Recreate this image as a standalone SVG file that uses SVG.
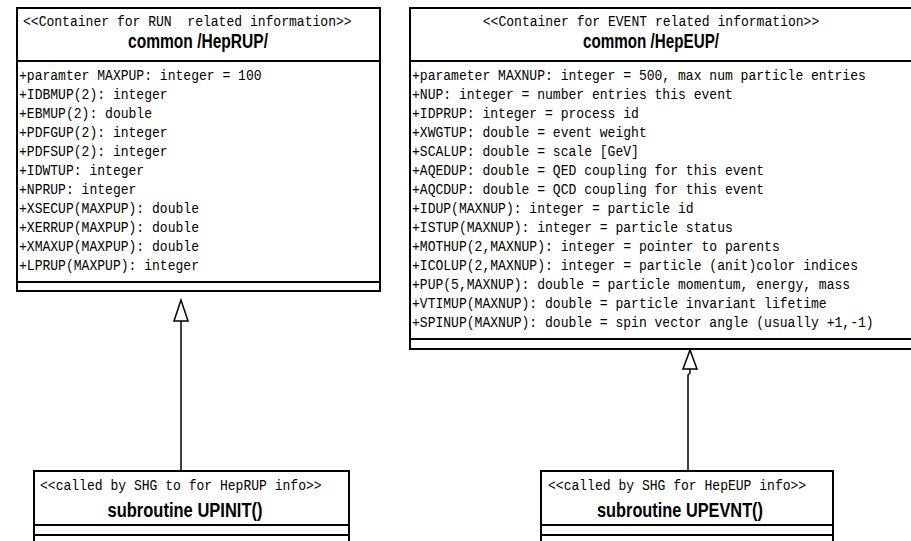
<svg xmlns="http://www.w3.org/2000/svg" width="911" height="541" viewBox="0 0 911 541">
  <style>
    .box { fill: #ffffff; stroke: #000000; stroke-width: 2; }
    .sep { stroke: #000000; stroke-width: 2; }
    .mono { font-family: "Liberation Mono", "Courier New", monospace; font-size: 14.5px; fill: #000000; }
    .title { font-family: "Liberation Sans", Arial, sans-serif; font-size: 20px; font-weight: bold; fill: #000000; text-anchor: middle; }
    .mid { text-anchor: middle; }
    .edge { fill: none; stroke: #000000; stroke-width: 1.5; }
    .head { fill: #ffffff; stroke: #000000; stroke-width: 1.5; stroke-linejoin: miter; }
  </style>

  <rect x="0" y="0" width="911" height="541" fill="#ffffff"/>

  <!-- common block holding run information -->
  <g id="hepRUP">
    <rect class="box" x="17" y="8" width="363" height="283"/>
    <line class="sep" x1="17" y1="61" x2="380" y2="61"/>
    <line class="sep" x1="17" y1="282" x2="380" y2="282"/>
    <g class="mono" transform="translate(23,0) scale(0.9,1)">
      <text x="0" y="26" xml:space="preserve">&lt;&lt;Container for RUN  related information&gt;&gt;</text>
    </g>
    <text class="title" x="198" y="48" textLength="140" lengthAdjust="spacingAndGlyphs">common /HepRUP/</text>
    <g class="mono" transform="translate(19,0) scale(0.9,1)">
      <text x="0" y="80">+paramter MAXPUP: integer = 100</text>
      <text x="0" y="99">+IDBMUP(2): integer</text>
      <text x="0" y="118">+EBMUP(2): double</text>
      <text x="0" y="137">+PDFGUP(2): integer</text>
      <text x="0" y="156">+PDFSUP(2): integer</text>
      <text x="0" y="175">+IDWTUP: integer</text>
      <text x="0" y="194">+NPRUP: integer</text>
      <text x="0" y="213">+XSECUP(MAXPUP): double</text>
      <text x="0" y="232">+XERRUP(MAXPUP): double</text>
      <text x="0" y="251">+XMAXUP(MAXPUP): double</text>
      <text x="0" y="270">+LPRUP(MAXPUP): integer</text>
    </g>
  </g>

  <!-- common block holding event information -->
  <g id="hepEUP">
    <rect class="box" x="410" y="8" width="512" height="341"/>
    <line class="sep" x1="410" y1="61" x2="922" y2="61"/>
    <line class="sep" x1="410" y1="339" x2="922" y2="339"/>
    <g class="mono mid" transform="translate(651,0) scale(0.9,1)">
      <text x="0" y="26">&lt;&lt;Container for EVENT related information&gt;&gt;</text>
    </g>
    <text class="title" x="651" y="48" textLength="136" lengthAdjust="spacingAndGlyphs">common /HepEUP/</text>
    <g class="mono" transform="translate(412,0) scale(0.9,1)">
      <text x="0" y="80">+parameter MAXNUP: integer = 500, max num particle entries</text>
      <text x="0" y="99">+NUP: integer = number entries this event</text>
      <text x="0" y="118">+IDPRUP: integer = process id</text>
      <text x="0" y="137">+XWGTUP: double = event weight</text>
      <text x="0" y="156">+SCALUP: double = scale [GeV]</text>
      <text x="0" y="175">+AQEDUP: double = QED coupling for this event</text>
      <text x="0" y="194">+AQCDUP: double = QCD coupling for this event</text>
      <text x="0" y="213">+IDUP(MAXNUP): integer = particle id</text>
      <text x="0" y="232">+ISTUP(MAXNUP): integer = particle status</text>
      <text x="0" y="251">+MOTHUP(2,MAXNUP): integer = pointer to parents</text>
      <text x="0" y="270">+ICOLUP(2,MAXNUP): integer = particle (anit)color indices</text>
      <text x="0" y="289">+PUP(5,MAXNUP): double = particle momentum, energy, mass</text>
      <text x="0" y="308">+VTIMUP(MAXNUP): double = particle invariant lifetime</text>
      <text x="0" y="327">+SPINUP(MAXNUP): double = spin vector angle (usually +1,-1)</text>
    </g>
  </g>

  <!-- subroutine filling the run block -->
  <g id="upinit">
    <rect class="box" x="34" y="471" width="315" height="90"/>
    <line class="sep" x1="34" y1="525" x2="349" y2="525"/>
    <line class="sep" x1="34" y1="535" x2="349" y2="535"/>
    <g class="mono" transform="translate(40,0) scale(0.9,1)">
      <text x="0" y="490">&lt;&lt;called by SHG to for HepRUP info&gt;&gt;</text>
    </g>
    <text class="title" x="185" y="517" textLength="155" lengthAdjust="spacingAndGlyphs">subroutine UPINIT()</text>
  </g>

  <!-- subroutine filling the event block -->
  <g id="upevnt">
    <rect class="box" x="541" y="471" width="292" height="90"/>
    <line class="sep" x1="541" y1="525" x2="833" y2="525"/>
    <line class="sep" x1="541" y1="535" x2="833" y2="535"/>
    <g class="mono" transform="translate(548,0) scale(0.9,1)">
      <text x="0" y="490">&lt;&lt;called by SHG for HepEUP info&gt;&gt;</text>
    </g>
    <text class="title" x="680" y="517" textLength="166" lengthAdjust="spacingAndGlyphs">subroutine UPEVNT()</text>
  </g>

  <!-- realization links with hollow triangle heads -->
  <g id="connectors">
    <path class="edge" d="M181,471 V321"/>
    <polygon class="head" points="181,300 174,321 188,321"/>
    <path class="edge" d="M690,369 V373 L688,375 V471"/>
    <polygon class="head" points="690,350 683,369 697,369"/>
  </g>
</svg>
